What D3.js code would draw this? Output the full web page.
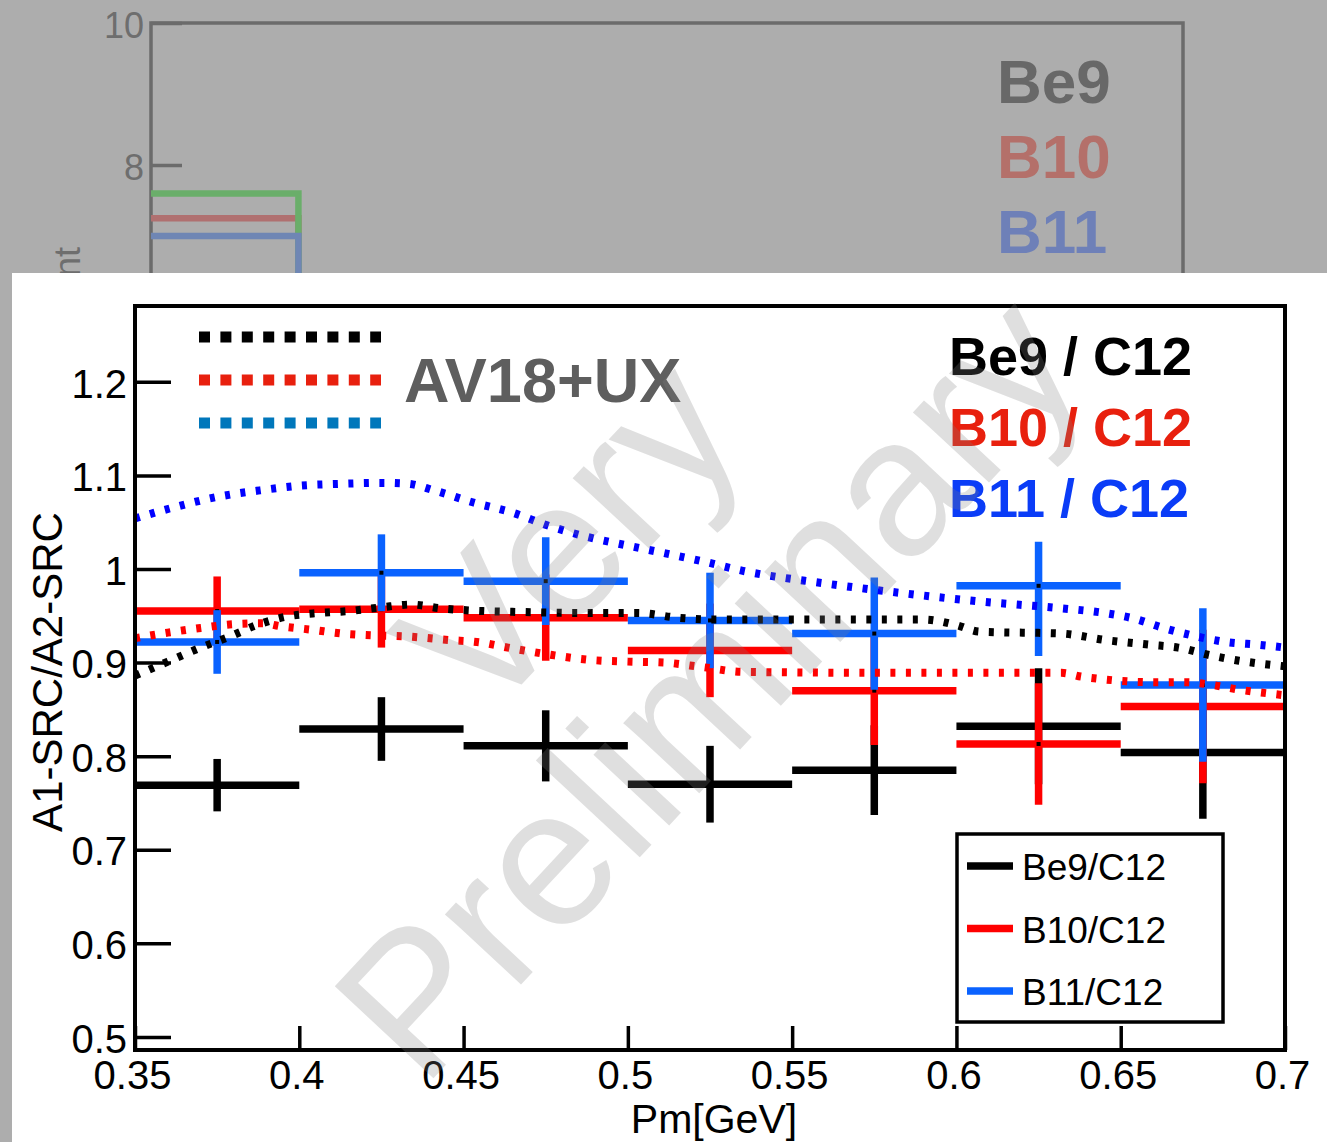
<!DOCTYPE html>
<html>
<head>
<meta charset="utf-8">
<script src="https://cdn.jsdelivr.net/npm/d3@7"></script>
<style>
  body { margin: 0; background: #fff; }
  svg text { font-family: "Liberation Sans", Arial, Helvetica, sans-serif; }
</style>
</head>
<body>
<script>
// ---- data: ratio A1-SRC / A2-SRC vs Pm ----
const binCenters = [0.375, 0.425, 0.475, 0.525, 0.575, 0.625, 0.675];
const binWidth = 0.05;

const be9Val   = [0.769, 0.829, 0.811, 0.770, 0.785, 0.832, 0.804];
const be9ErrUp = [0.028, 0.034, 0.038, 0.041, 0.048, 0.062, 0.071];
const be9ErrDn = [0.028, 0.034, 0.038, 0.041, 0.048, 0.062, 0.071];

const b10Val   = [0.955, 0.957, 0.948, 0.913, 0.870, 0.813, 0.853];
const b10ErrUp = [0.037, 0.041, 0.046, 0.050, 0.058, 0.065, 0.082];
const b10ErrDn = [0.037, 0.041, 0.046, 0.050, 0.058, 0.065, 0.082];

const b11Val   = [0.922, 0.996, 0.987, 0.945, 0.931, 0.982, 0.876];
const b11ErrUp = [0.034, 0.041, 0.047, 0.051, 0.060, 0.047, 0.082];
const b11ErrDn = [0.034, 0.041, 0.047, 0.051, 0.060, 0.075, 0.082];

// AV18+UX calculation curves [Pm, ratio]
const av18Be9 = [[0.350,0.886],[0.360,0.901],[0.370,0.916],[0.379,0.928],[0.387,0.940],[0.396,0.949],
  [0.406,0.953],[0.415,0.955],[0.425,0.959],[0.434,0.962],[0.443,0.958],[0.456,0.955],[0.468,0.954],
  [0.485,0.953],[0.503,0.953],[0.515,0.948],[0.527,0.946],[0.550,0.946],[0.590,0.946],[0.600,0.940],
  [0.607,0.933],[0.632,0.931],[0.6455,0.924],[0.659,0.919],[0.6675,0.916],[0.677,0.908],[0.686,0.902],[0.700,0.896]];
const av18B10 = [[0.350,0.926],[0.360,0.932],[0.370,0.937],[0.380,0.941],[0.389,0.942],[0.394,0.939],
  [0.404,0.935],[0.413,0.931],[0.423,0.929],[0.432,0.928],[0.446,0.924],[0.454,0.922],[0.465,0.915],
  [0.477,0.908],[0.488,0.903],[0.500,0.901],[0.511,0.900],[0.523,0.895],[0.535,0.890],[0.584,0.889],
  [0.632,0.889],[0.638,0.885],[0.645,0.882],[0.660,0.879],[0.670,0.879],[0.678,0.876],[0.686,0.871],
  [0.695,0.867],[0.700,0.865]];
const av18B11 = [[0.350,1.054],[0.362,1.066],[0.375,1.077],[0.388,1.084],[0.400,1.089],[0.413,1.091],
  [0.425,1.092],[0.433,1.091],[0.441,1.084],[0.453,1.071],[0.465,1.060],[0.476,1.046],[0.488,1.034],
  [0.500,1.025],[0.511,1.017],[0.523,1.008],[0.535,0.998],[0.559,0.985],[0.584,0.974],[0.608,0.965],
  [0.632,0.958],[0.645,0.953],[0.654,0.947],[0.663,0.937],[0.673,0.928],[0.682,0.922],[0.692,0.919],[0.700,0.916]];

const xTicks = [0.35, 0.4, 0.45, 0.5, 0.55, 0.6, 0.65, 0.7];
const yTicks = [0.5, 0.6, 0.7, 0.8, 0.9, 1.0, 1.1, 1.2];
const seriesNames = ["Be9/C12", "B10/C12", "B11/C12"];
const bigLabels = ["Be9 / C12", "B10 / C12", "B11 / C12"];

// background (covered) slide plot
const bgEdges = [0.3, 0.4, 0.5];
const bgGreen = [7.6, 5.0];
const bgRed   = [7.25, 5.0];
const bgBlue  = [7.0, 5.0];
const bgTicks = [8, 10];
const bgNames = ["Be9", "B10", "B11"];

const W = 1327, H = 1142;
const svg = d3.select("body").append("svg").attr("width", W).attr("height", H);

// ---- grey backdrop with the covered plot ----
svg.append("rect").attr("width", W).attr("height", H).attr("fill", "#adadad");

const bgX = d3.scaleLinear().domain([0.3, 1.0]).range([151, 1183]);
const bgY = d3.scaleLinear().domain([8, 10]).range([165, 23]);
const bg = svg.append("g");

bg.append("rect").attr("x", 151).attr("y", 23).attr("width", 1032).attr("height", 320)
  .attr("fill", "none").attr("stroke", "#6b6b6b").attr("stroke-width", 3.5);

const bgAxis = bg.append("g").attr("transform", "translate(151,0)")
  .call(d3.axisLeft(bgY).tickValues(bgTicks).tickSize(-31).tickPadding(7).tickFormat(d3.format("d")));
bgAxis.select(".domain").remove();
bgAxis.selectAll("line").attr("stroke", "#6b6b6b").attr("stroke-width", 3.5);
bgAxis.selectAll("text").attr("fill", "#6e6e6e").attr("font-size", 36)
  .attr("font-family", "Liberation Sans, Arial, sans-serif").attr("dy", "0.4em");

const bgLine = d3.line().x(d => bgX(d[0])).y(d => bgY(d[1])).curve(d3.curveStepAfter);
[[bgRed, "#b07070"], [bgGreen, "#6aae6a"], [bgBlue, "#6f86b4"]].forEach(([vals, c]) => {
  const pts = bgEdges.map((e, i) => [e, vals[Math.min(i, vals.length - 1)]]);
  bg.append("path").attr("d", bgLine(pts)).attr("fill", "none")
    .attr("stroke", c).attr("stroke-width", 6.5);
});

const bgColors = ["#686868", "#b4706a", "#6e80b8"];
bgNames.forEach((n, i) => {
  bg.append("text").attr("x", 997).attr("y", 103 + i * 75).text(n)
    .attr("font-size", 62).attr("font-weight", "bold").attr("fill", bgColors[i]);
});
bg.append("text").attr("transform", "translate(80,247) rotate(-90)")
  .attr("text-anchor", "end").attr("font-size", 36).attr("fill", "#6e6e6e").text("Count");

// ---- white panel with the ratio plot ----
svg.append("rect").attr("x", 12).attr("y", 273).attr("width", W - 12).attr("height", H - 273)
  .attr("fill", "#fff");

const x = d3.scaleLinear().domain([0.35, 0.7]).range([135, 1285]);
const y = d3.scaleLinear().domain([0.486, 1.281]).range([1050, 306]);

svg.append("clipPath").attr("id", "plotClip").append("rect")
  .attr("x", 135).attr("y", 306).attr("width", 1150).attr("height", 744);

const plot = svg.append("g").attr("clip-path", "url(#plotClip)");

function drawSeries(vals, up, dn, color) {
  const g = plot.append("g").attr("stroke", color).attr("stroke-width", 7.5);
  g.selectAll(null).data(binCenters).join("line")
    .attr("x1", d => x(d - binWidth / 2)).attr("x2", d => x(d + binWidth / 2))
    .attr("y1", (d, i) => y(vals[i])).attr("y2", (d, i) => y(vals[i]));
  g.selectAll(null).data(binCenters).join("line")
    .attr("x1", d => x(d)).attr("x2", d => x(d))
    .attr("y1", (d, i) => y(vals[i] + up[i])).attr("y2", (d, i) => y(vals[i] - dn[i]));
  plot.append("g").selectAll(null).data(binCenters).join("rect")
    .attr("x", d => x(d) - 2).attr("y", (d, i) => y(vals[i]) - 2)
    .attr("width", 4).attr("height", 4).attr("fill", "#000");
}

drawSeries(be9Val, be9ErrUp, be9ErrDn, "#000000");
drawSeries(b10Val, b10ErrUp, b10ErrDn, "#ff0000");
drawSeries(b11Val, b11ErrUp, b11ErrDn, "#0a62ff");

const curve = d3.line().x(d => x(d[0])).y(d => y(d[1])).curve(d3.curveMonotoneX);
[[av18Be9, "#000000"], [av18B10, "#ff0000"], [av18B11, "#0000ff"]].forEach(([pts, c]) => {
  plot.append("path").attr("d", curve(pts)).attr("fill", "none")
    .attr("stroke", c).attr("stroke-width", 8).attr("stroke-dasharray", "5,10.5");
});

// frame + axes
const yAxis = svg.append("g").attr("transform", "translate(135,0)")
  .call(d3.axisLeft(y).tickValues(yTicks).tickSize(-36).tickPadding(8)
    .tickFormat(d => String(+d.toFixed(2))));
yAxis.select(".domain").remove();
yAxis.selectAll("line").attr("stroke", "#000").attr("stroke-width", 3.5);
yAxis.selectAll("text").attr("font-size", 40).attr("fill", "#000")
  .attr("font-family", "Liberation Sans, Arial, sans-serif").attr("dy", "0.38em");

const xAxis = svg.append("g").attr("transform", "translate(0,1050)")
  .call(d3.axisBottom(x).tickValues(xTicks).tickSize(-24).tickPadding(11)
    .tickFormat(d => String(+d.toFixed(2))));
xAxis.select(".domain").remove();
xAxis.selectAll("line").attr("stroke", "#000").attr("stroke-width", 3.5);
xAxis.selectAll("text").attr("font-size", 40).attr("fill", "#000").attr("x", -3)
  .attr("font-family", "Liberation Sans, Arial, sans-serif");

svg.append("rect").attr("x", 135).attr("y", 306).attr("width", 1150).attr("height", 744)
  .attr("fill", "none").attr("stroke", "#000").attr("stroke-width", 4);

svg.append("text").attr("x", 714).attr("y", 1133).attr("text-anchor", "middle")
  .attr("font-size", 41).text("Pm[GeV]");
svg.append("text").attr("transform", "translate(62,672) rotate(-90)").attr("text-anchor", "middle")
  .attr("font-size", 42).text("A1-SRC/A2-SRC");

// AV18+UX legend (dotted samples)
const legDotColors = ["#000000", "#e8200e", "#0077bb"];
legDotColors.forEach((c, i) => {
  svg.append("line").attr("x1", 199).attr("x2", 381)
    .attr("y1", 337 + i * 43).attr("y2", 337 + i * 43)
    .attr("stroke", c).attr("stroke-width", 11).attr("stroke-dasharray", "11,10.4");
});
svg.append("text").attr("x", 404).attr("y", 402).attr("font-size", 63)
  .attr("font-weight", "bold").attr("fill", "#5e5e5e").text("AV18+UX");

const bigColors = ["#000000", "#e8200e", "#0a3cf7"];
bigLabels.forEach((t, i) => {
  svg.append("text").attr("x", 949).attr("y", 375 + i * 71).attr("font-size", 54)
    .attr("font-weight", "bold").attr("fill", bigColors[i]).text(t);
});

// boxed legend
const legColors = ["#000000", "#ff0000", "#0a62ff"];
const leg = svg.append("g");
leg.append("rect").attr("x", 957).attr("y", 834).attr("width", 266).attr("height", 188)
  .attr("fill", "#fff").attr("stroke", "#000").attr("stroke-width", 3.5);
seriesNames.forEach((n, i) => {
  const cy = 866 + i * 62.5;
  leg.append("line").attr("x1", 967).attr("x2", 1013).attr("y1", cy).attr("y2", cy)
    .attr("stroke", legColors[i]).attr("stroke-width", 7.5);
  leg.append("text").attr("x", 1022).attr("y", cy + 14).attr("font-size", 37).text(n);
});

// watermark
const wm = svg.append("g").attr("transform", "translate(634,617) rotate(-47)")
  .attr("fill", "rgba(128,128,128,0.25)").attr("text-anchor", "middle").attr("font-size", 196);
wm.append("text").attr("x", 14).attr("y", -36).text("Very");
wm.append("text").attr("x", 0).attr("y", 168).text("Preliminary");
</script>
</body>
</html>
